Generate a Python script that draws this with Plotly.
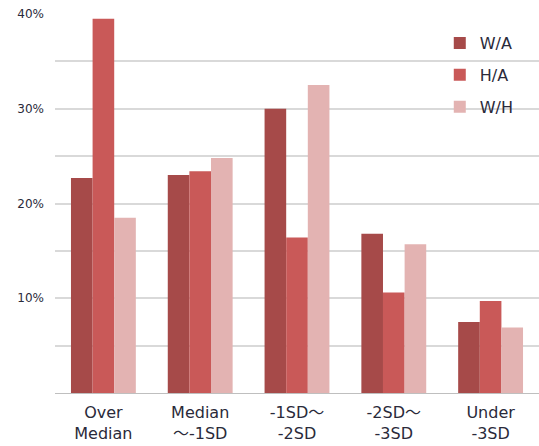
import plotly.graph_objects as go

# Category labels, split into the two lines shown under each group
line1 = ["Over", "Median", "-1SD〜", "-2SD〜", "Under"]
line2 = ["Median", "〜-1SD", "-2SD", "-3SD", "-3SD"]
categories = [a + " " + b for a, b in zip(line1, line2)]

wa = [22.7, 23.0, 30.0, 16.8, 7.5]
ha = [39.5, 23.4, 16.4, 10.6, 9.7]
wh = [18.5, 24.8, 32.5, 15.7, 6.9]

series = [("W/A", wa, "#A64A49"), ("H/A", ha, "#C95958"), ("W/H", wh, "#E3B3B2")]

FONT = "DejaVu Sans, Noto Sans CJK JP"
TEXT = "#2a2a3a"

fig = go.Figure()
for name, vals, color in series:
    fig.add_trace(go.Bar(
        x=categories, y=vals, name=name, marker_color=color,
        marker_line_width=0, legendgroup=name,
    ))

# invisible trace so the overlaid label axis is drawn
fig.add_trace(go.Scatter(x=[0], y=[0], xaxis="x2", mode="markers",
                         marker=dict(opacity=0), showlegend=False, hoverinfo="skip"))

fig.update_layout(
    width=539, height=446,
    margin=dict(l=55, r=0, t=14, b=53),
    paper_bgcolor="white", plot_bgcolor="white",
    barmode="group", bargap=0.33, bargroupgap=0,
    font=dict(family=FONT, color=TEXT),
    legend=dict(
        x=0.795, y=0.968, xanchor="left", yanchor="top",
        font=dict(size=16, color=TEXT),
        tracegroupgap=8, bgcolor="rgba(0,0,0,0)",
        itemwidth=30,
    ),
    showlegend=True,
    xaxis=dict(
        showline=True, linecolor="#bfbfbf", linewidth=1,
        tickvals=categories, ticktext=line1,
        tickfont=dict(size=16, color=TEXT, family=FONT),
        ticks="", ticklabelstandoff=5, automargin=False,
    ),
    # second line of the category labels on an overlaid axis
    xaxis2=dict(
        overlaying="x", side="bottom", anchor="y",
        range=[-0.5, 4.5], tickvals=list(range(5)), ticktext=line2,
        showgrid=False, zeroline=False, showline=False, ticks="",
        tickfont=dict(size=16, color=TEXT, family=FONT),
        ticklabelstandoff=29, automargin=False,
    ),
    yaxis=dict(
        range=[0, 40], tickvals=[10, 20, 30, 40],
        ticktext=["10%", "20%", "30%", "40%"],
        showgrid=True, gridcolor="#d9d9d9", gridwidth=1.5,
        minor=dict(dtick=5, showgrid=True, gridcolor="#d9d9d9", gridwidth=1.5),
        tickfont=dict(size=12, color=TEXT),
        zeroline=False, ticks="", ticklabelstandoff=10, automargin=False,
    ),
)

fig.write_html("out.html")
